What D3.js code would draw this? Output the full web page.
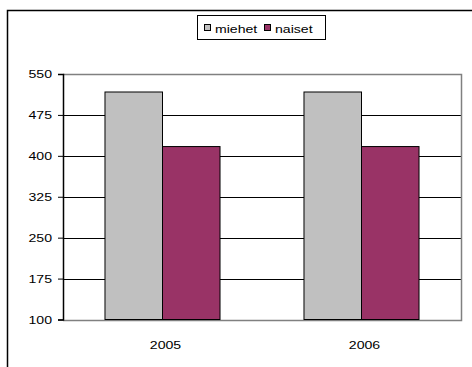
<!DOCTYPE html>
<html><head><meta charset="utf-8">
<script src="https://cdn.jsdelivr.net/npm/d3@7"></script>
<style>body{margin:0;background:#fff}svg{display:block;font-family:Arial,"Liberation Sans",sans-serif}</style>
</head><body>
<svg id="c" width="472" height="367"></svg>
<script>
const categories = ["2005", "2006"];
const seriesNames = ["miehet", "naiset"];
const miehet = [517, 517];
const naiset = [417, 417];
const yTicks = [100, 175, 250, 325, 400, 475, 550];
const colors = ["#C0C0C0", "#993366"];

const svg = d3.select("#c");
const L = 63, R = 461, T = 74, B = 319.5;
const FONT = "Arial, 'Liberation Sans', sans-serif";

function stretch(sel) {
  sel.each(function () {
    const w = this.getComputedTextLength();
    d3.select(this).attr("textLength", w * 1.28).attr("lengthAdjust", "spacingAndGlyphs");
  });
}

// outer chart frame (clipped by window)
svg.append("rect").attr("x", 7.5).attr("y", 10.5).attr("width", 480).attr("height", 380)
  .attr("fill", "none").attr("stroke", "#000").attr("stroke-width", 1.5);

const y = d3.scaleLinear().domain([100, 550]).range([B, T]);
const x0 = d3.scaleBand().domain(categories).range([L, R]).padding(0);
const x1 = d3.scaleBand().domain(seriesNames).range([0, x0.bandwidth()]).paddingInner(0).paddingOuter(0.73);

// gridlines
svg.append("g").selectAll("line").data(yTicks.filter(t => t > 100 && t < 550)).join("line")
  .attr("x1", L).attr("x2", R).attr("y1", d => Math.round(y(d)) + 0.5).attr("y2", d => Math.round(y(d)) + 0.5)
  .attr("stroke", "#000").attr("stroke-width", 1);

// plot border (gray top/right/bottom)
svg.append("path")
  .attr("d", `M${L},${Math.round(T)+0.5}H${R+0.5}V${Math.round(B)+0.5}H${L}`)
  .attr("fill", "none").attr("stroke", "#808080").attr("stroke-width", 1.5);

// bars
const data = categories.map((c, i) => ({c, vals: [miehet[i], naiset[i]]}));
const g = svg.append("g").selectAll("g").data(data).join("g")
  .attr("transform", d => `translate(${x0(d.c)},0)`);
g.selectAll("rect").data(d => d.vals.map((v, j) => ({s: seriesNames[j], v, j}))).join("rect")
  .attr("x", d => x1(d.s)).attr("width", x1.bandwidth())
  .attr("y", d => y(d.v)).attr("height", d => y(100) - y(d.v))
  .attr("fill", d => colors[d.j]).attr("stroke", "#000").attr("stroke-width", 1);

// y axis
const yAxis = d3.axisLeft(y).tickValues(yTicks).tickSize(5).tickPadding(6);
const ya = svg.append("g").attr("transform", `translate(${L},0)`).call(yAxis);
ya.select(".domain").attr("stroke", "#000").attr("stroke-width", 1.5);
ya.selectAll(".tick line").attr("stroke", "#000");
ya.selectAll("text").attr("font-size", 11).attr("fill", "#000").attr("font-family", FONT).call(stretch);

// x labels
const xAxis = d3.axisBottom(x0).tickSize(0).tickPadding(22);
const xa = svg.append("g").attr("transform", `translate(0,${B})`).call(xAxis);
xa.select(".domain").remove();
xa.selectAll("text").attr("font-size", 11).attr("fill", "#000").attr("font-family", FONT)
  .attr("dx", 3).call(stretch);

// legend
const lg = svg.append("g");
lg.append("rect").attr("x", 197.5).attr("y", 15.5).attr("width", 128).attr("height", 24)
  .attr("fill", "#fff").attr("stroke", "#000").attr("stroke-width", 1);
const lx = [204, 264];
seriesNames.forEach((s, i) => {
  lg.append("rect").attr("x", lx[i] + 0.5).attr("y", 24.5).attr("width", 6).attr("height", 6)
    .attr("fill", colors[i]).attr("stroke", "#000").attr("stroke-width", 1);
  lg.append("text").attr("x", lx[i] + 11).attr("y", 33).attr("font-size", 11).attr("fill", "#000")
    .attr("font-family", FONT).text(s).call(stretch);
});
</script>
</body></html>
